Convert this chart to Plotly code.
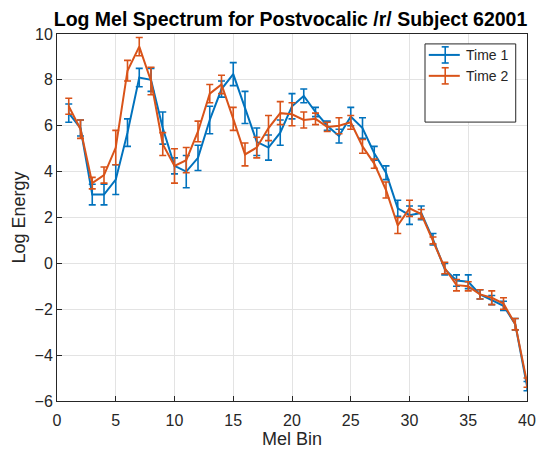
import plotly.graph_objects as go

mel_bin = list(range(1, 41))

time1 = [6.55, 5.9, 3.0, 3.0, 3.65, 5.7, 8.1, 8.0, 5.9, 4.25,
         4.0, 4.6, 6.25, 7.6, 8.25, 6.8, 5.3, 5.05, 5.7, 6.85,
         7.3, 6.6, 6.0, 5.55, 6.4, 5.9, 4.8, 3.95, 2.4, 2.1,
         2.2, 1.05, -0.25, -0.75, -0.8, -1.35, -1.6, -1.85, -2.65, -5.35]
time1_err = [0.4, 0.35, 0.45, 0.45, 0.65, 0.6, 0.4, 0.5, 0.7, 0.35,
             0.7, 0.55, 0.6, 0.35, 0.5, 0.7, 0.6, 0.55, 0.55, 0.55,
             0.3, 0.2, 0.2, 0.3, 0.4, 0.45, 0.3, 0.3, 0.35, 0.4,
             0.3, 0.25, 0.25, 0.25, 0.3, 0.2, 0.2, 0.2, 0.25, 0.2]

time2 = [6.85, 5.85, 3.5, 3.85, 5.05, 8.4, 9.45, 7.95, 5.2, 4.25,
         4.5, 5.75, 7.4, 7.8, 6.3, 4.75, 5.05, 5.9, 6.55, 6.5,
         6.25, 6.3, 5.95, 6.0, 6.15, 5.1, 4.35, 3.2, 1.65, 2.4,
         2.15, 1.0, -0.2, -0.95, -1.0, -1.35, -1.5, -1.75, -2.65, -5.2]
time2_err = [0.35, 0.4, 0.25, 0.35, 0.75, 0.45, 0.4, 0.6, 0.5, 0.75,
             0.55, 0.45, 0.4, 0.4, 0.5, 0.5, 0.45, 0.55, 0.5, 0.5,
             0.35, 0.25, 0.2, 0.35, 0.3, 0.3, 0.2, 0.35, 0.35, 0.35,
             0.2, 0.15, 0.25, 0.25, 0.2, 0.2, 0.3, 0.25, 0.25, 0.2]

series_names = ["Time 1", "Time 2"]
colors = ["#0072BD", "#D95319"]

x_ticks = [0, 5, 10, 15, 20, 25, 30, 35, 40]
y_ticks = [-6, -4, -2, 0, 2, 4, 6, 8, 10]

FONT = "Liberation Sans, Arial, Helvetica, sans-serif"

fig = go.Figure()
for name, ys, errs, c in [(series_names[0], time1, time1_err, colors[0]),
                          (series_names[1], time2, time2_err, colors[1])]:
    fig.add_trace(go.Scatter(
        x=mel_bin, y=ys, mode="lines", name=name,
        line=dict(color=c, width=2),
        error_y=dict(type="data", array=errs, visible=True,
                     color=c, thickness=1.6, width=3.5),
        showlegend=False,
    ))

axis_common = dict(
    showline=True, linecolor="#262626", linewidth=1, mirror=True,
    ticks="inside", ticklen=5, tickcolor="#262626",
    showgrid=True, gridcolor="#E3E3E3", gridwidth=1,
    zeroline=False, automargin=False,
    tickfont=dict(family=FONT, size=16, color="#262626"),
)

fig.update_xaxes(range=[0, 40], tickvals=x_ticks, ticklabelstandoff=5,
                 title=dict(text="Mel Bin", font=dict(family=FONT, size=18, color="#262626"), standoff=3),
                 **axis_common)
fig.update_yaxes(range=[-6, 10], tickvals=y_ticks,
                 title=dict(text="Log Energy", font=dict(family=FONT, size=18, color="#262626"), standoff=4),
                 **axis_common)

# Manual legend (MATLAB-style box with error-bar glyphs)
lx0, lx1 = 0.783, 0.976
ly0, ly1 = 0.760, 0.973
fig.add_shape(type="rect", xref="paper", yref="paper", x0=lx0, x1=lx1, y0=ly0, y1=ly1,
              line=dict(color="#262626", width=1), fillcolor="white", layer="above")
entry_y = [0.943, 0.886]
for name, c, ey in zip(series_names, colors, entry_y):
    fig.add_shape(type="line", xref="paper", yref="paper", x0=0.791, x1=0.857, y0=ey, y1=ey,
                  line=dict(color=c, width=2), layer="above")
    fig.add_shape(type="line", xref="paper", yref="paper", x0=0.826, x1=0.826, y0=ey - 0.022, y1=ey + 0.022,
                  line=dict(color=c, width=1.6), layer="above")
    for dy in (-0.022, 0.022):
        fig.add_shape(type="line", xref="paper", yref="paper", x0=0.8185, x1=0.8335, y0=ey + dy, y1=ey + dy,
                      line=dict(color=c, width=1.6), layer="above")
    fig.add_annotation(xref="paper", yref="paper", x=0.866, y=ey, text=name, showarrow=False,
                       xanchor="left", yanchor="middle",
                       font=dict(family=FONT, size=14, color="#262626"))

fig.update_layout(
    width=536, height=455,
    margin=dict(l=57, r=9, t=34, b=54),
    paper_bgcolor="white", plot_bgcolor="white",
    title=dict(text="<b>Log Mel Spectrum for Postvocalic /r/ Subject 62001</b>",
               x=0.542, xanchor="center", y=0.958, yanchor="middle",
               font=dict(family=FONT, size=19.5, color="black")),
)

fig.write_html("out.html", config={"displayModeBar": False},
               post_script="document.body.style.margin='0';document.body.style.overflow='hidden';")
